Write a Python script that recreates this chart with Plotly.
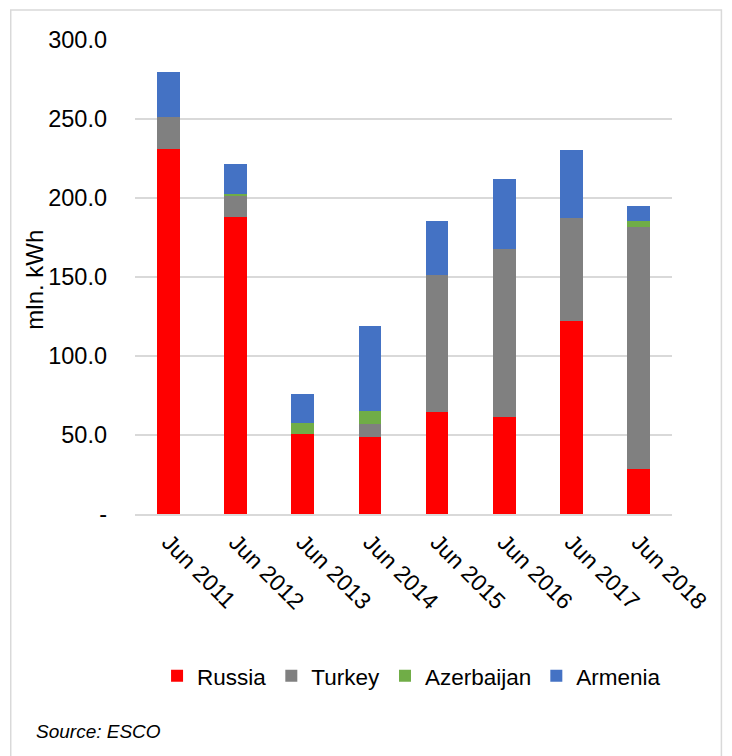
import plotly.graph_objects as go

categories = ["Jun 2011", "Jun 2012", "Jun 2013", "Jun 2014", "Jun 2015", "Jun 2016", "Jun 2017", "Jun 2018"]
russia = [231.2, 187.8, 50.8, 48.9, 64.8, 61.2, 122.0, 28.7]
turkey = [19.8, 14.0, 0.0, 8.3, 86.3, 106.5, 65.1, 152.9]
azerbaijan = [0.0, 0.8, 6.8, 7.8, 0.0, 0.0, 0.0, 4.0]
armenia = [29.0, 18.7, 18.2, 54.2, 34.1, 44.5, 43.3, 9.4]

series = [
    ("Russia", russia, "#FF0000"),
    ("Turkey", turkey, "#808080"),
    ("Azerbaijan", azerbaijan, "#70AD47"),
    ("Armenia", armenia, "#4472C4"),
]

y_tickvals = [0, 50, 100, 150, 200, 250, 300]
y_ticktext = ["-", "50.0", "100.0", "150.0", "200.0", "250.0", "300.0"]

FONT = "Liberation Sans, Arial, sans-serif"

fig = go.Figure()
for name, vals, color in series:
    fig.add_trace(go.Bar(x=categories, y=vals, name=name, marker=dict(color=color, line=dict(width=0))))

L, R, T, B = 134.5, 59.5, 40, 242
fig.update_layout(
    width=732, height=756,
    barmode="stack", bargap=0.66,
    plot_bgcolor="white", paper_bgcolor="white",
    margin=dict(l=L, r=R, t=T, b=B, autoexpand=False),
    font=dict(family=FONT, size=23, color="#000000"),
    showlegend=True,
    legend=dict(orientation="h", x=0.515, xanchor="center", y=-0.342, yanchor="middle",
                font=dict(size=22.5), itemwidth=30, traceorder="normal"),
    xaxis=dict(tickangle=45, showgrid=False, showline=True, linecolor="#D9D9D9", linewidth=1.5,
               ticks="", tickfont=dict(size=23), ticklabelstandoff=4),
    yaxis=dict(range=[0, 300], tickvals=y_tickvals, ticktext=y_ticktext, showgrid=True,
               gridcolor="#D9D9D9", gridwidth=1.5, zeroline=False, ticks="",
               ticklabelstandoff=27, tickfont=dict(size=23.5)),
)

ph = 756 - T - B
pw = 732 - L - R
def px2x(px):
    return (px - L) / pw
def py2y(py):
    return (756 - B - py) / ph

fig.add_annotation(text="mln. kWh", textangle=-90, xref="paper", yref="paper",
                   x=px2x(33), y=py2y(280), showarrow=False, font=dict(size=24),
                   xanchor="center", yanchor="middle")
fig.add_annotation(text="<i>Source: ESCO</i>", xref="paper", yref="paper",
                   x=px2x(33), y=py2y(731), showarrow=False, font=dict(size=19),
                   xanchor="left", yanchor="middle")
fig.add_shape(type="rect", xref="paper", yref="paper",
              x0=px2x(10), x1=px2x(722), y0=py2y(770), y1=py2y(10),
              line=dict(color="#D9D9D9", width=1.5), fillcolor="rgba(0,0,0,0)", layer="below")

fig.write_html("out.html", config={"displayModeBar": False},
               post_script="document.body.style.margin='0';")
